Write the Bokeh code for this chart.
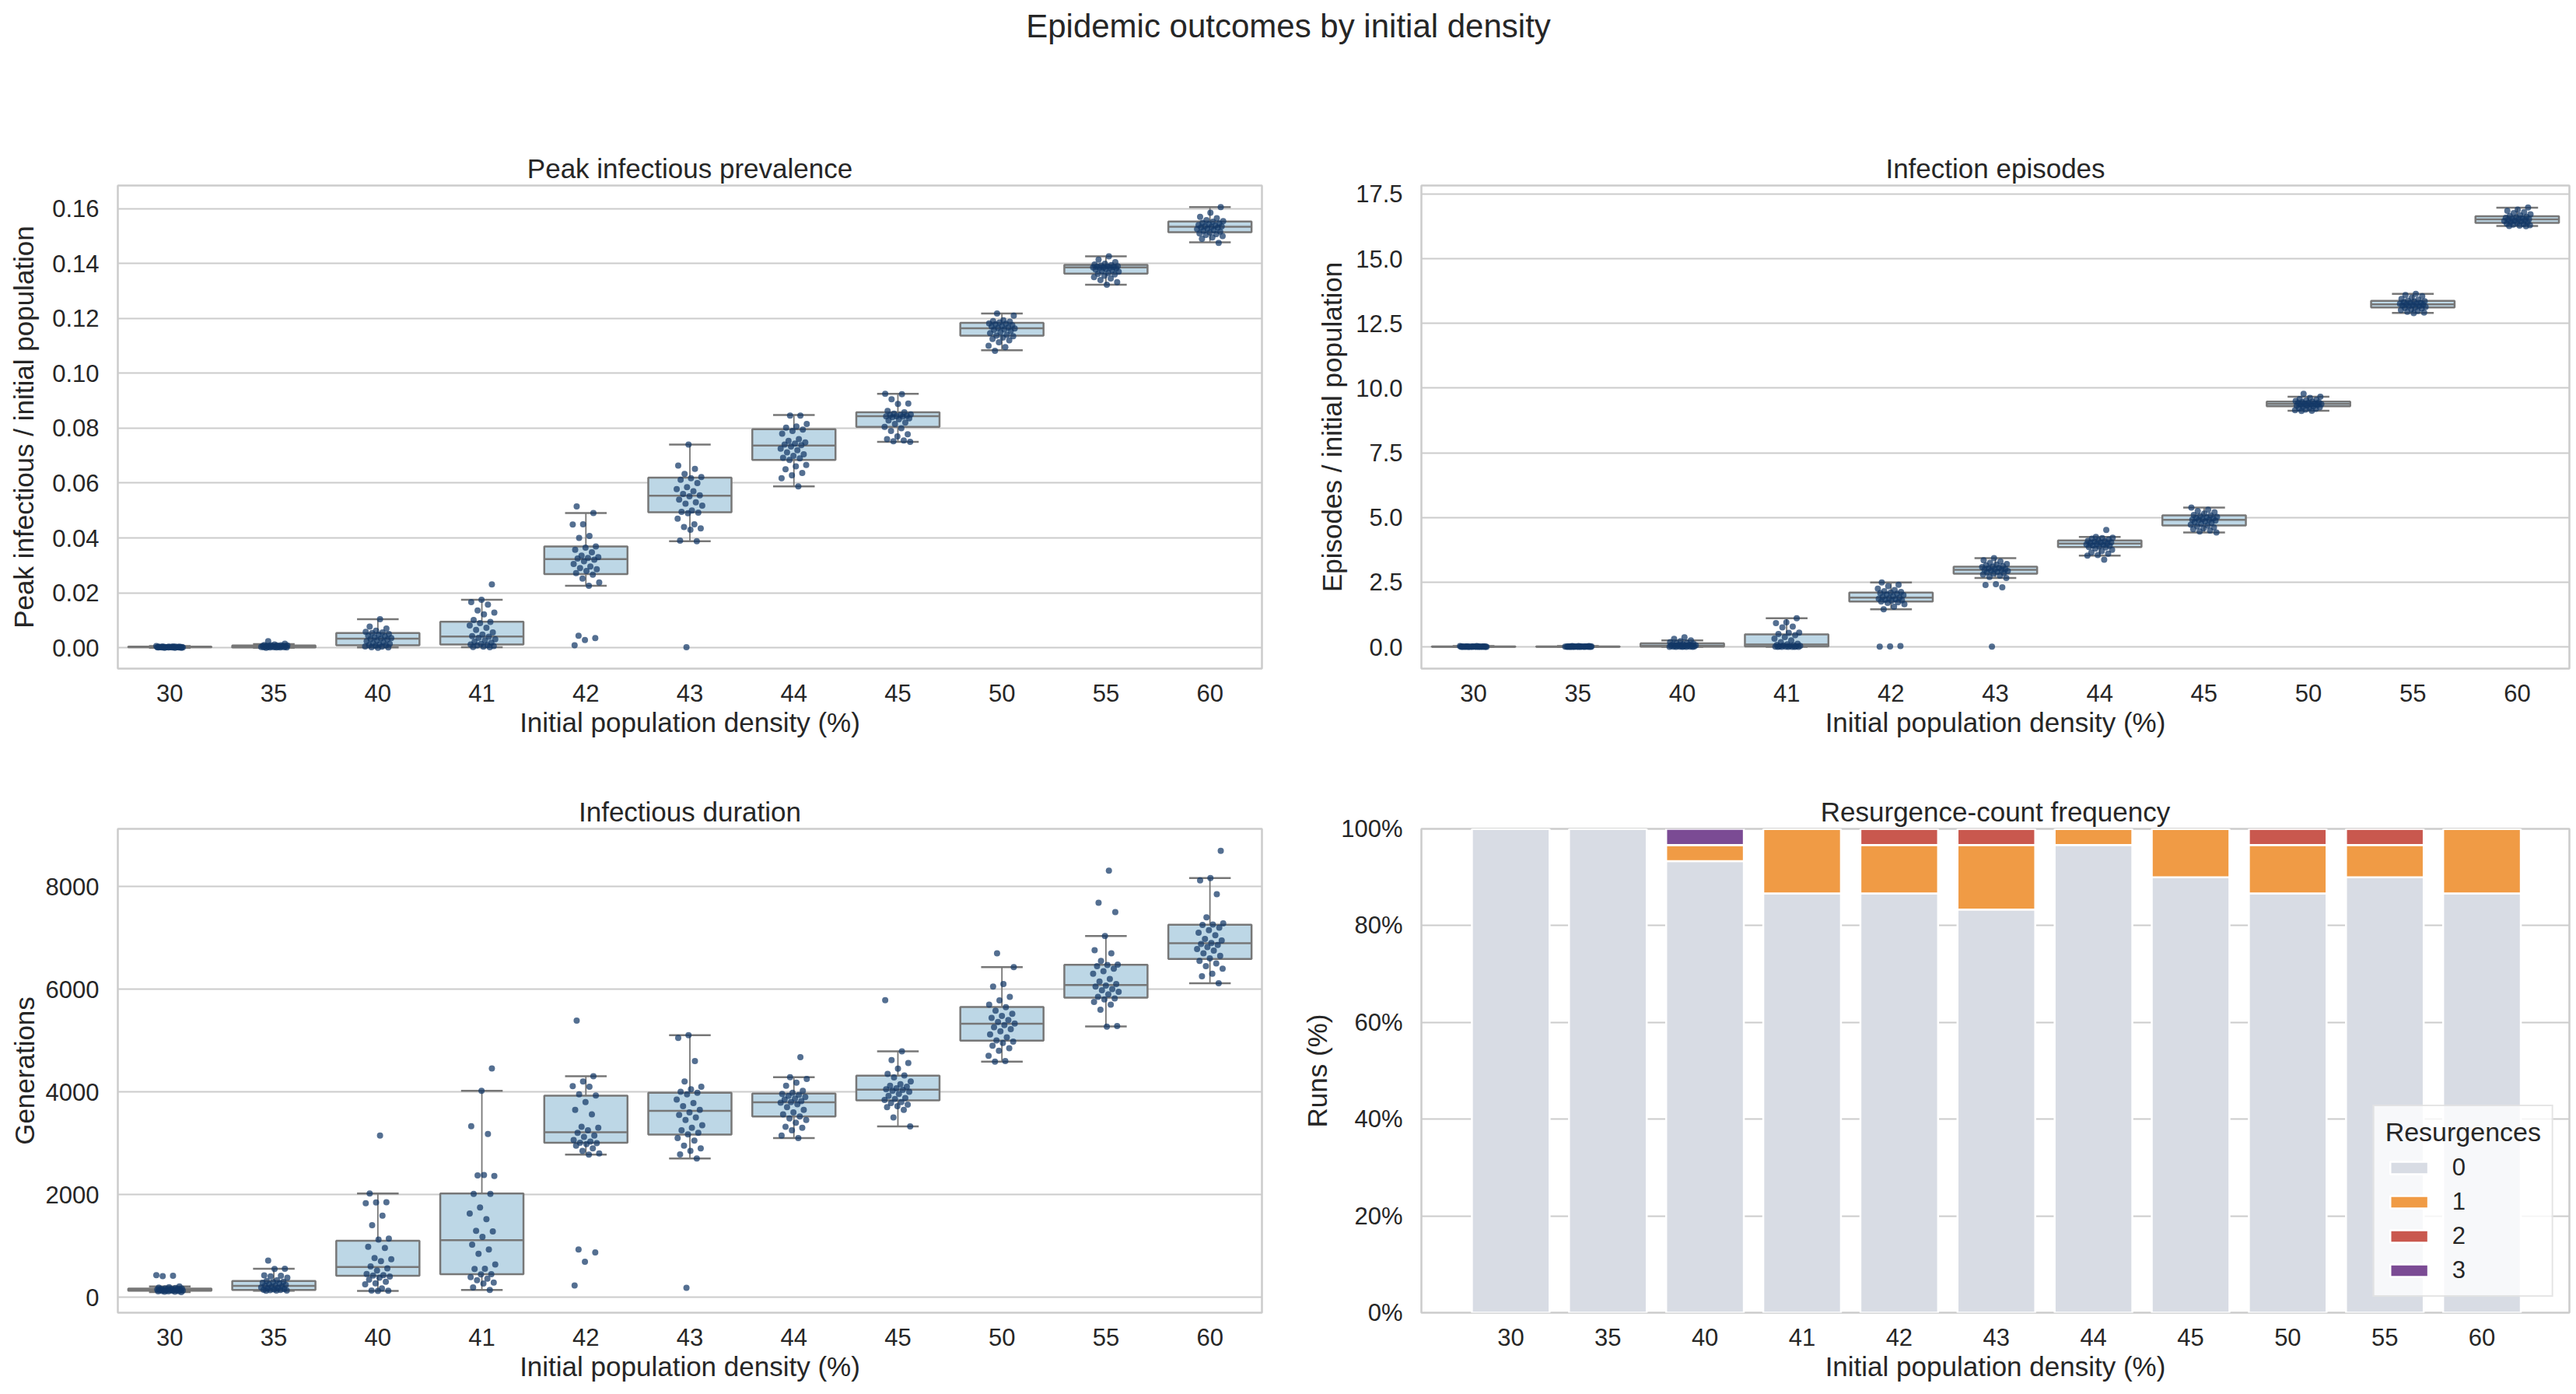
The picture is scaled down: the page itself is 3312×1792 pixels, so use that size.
import numpy as np
from bokeh.plotting import figure
from bokeh.models import ColumnDataSource, FixedTicker, Range1d, NumeralTickFormatter
from bokeh.layouts import column, row
from bokeh.embed import file_html
from bokeh.resources import INLINE
from bokeh.core.properties import value

# ---------------- data ----------------
densities = ["30", "35", "40", "41", "42", "43", "44", "45", "50", "55", "60"]

# Peak infectious / initial population (30 runs per density)
peak_runs = [
    [0.0006, 0.0005, 0.0005, 0.0004, 0.0004, 0.0004, 0.0004, 0.0003, 0.0003, 0.0003, 0.0003, 0.0003, 0.0003, 0.0002, 0.0002,
     0.0002, 0.0002, 0.0002, 0.0002, 0.0002, 0.0002, 0.0001, 0.0001, 0.0001, 0.0001, 0.0001, 0.0001, 0.0000, 0.0000, 0.0000],
    [0.0024, 0.0015, 0.0012, 0.0010, 0.0009, 0.0009, 0.0008, 0.0008, 0.0007, 0.0007, 0.0006, 0.0006, 0.0005, 0.0005, 0.0005,
     0.0005, 0.0004, 0.0004, 0.0004, 0.0003, 0.0003, 0.0003, 0.0002, 0.0002, 0.0002, 0.0001, 0.0001, 0.0001, 0.0001, 0.0000],
    [0.0104, 0.0077, 0.0070, 0.0062, 0.0058, 0.0056, 0.0054, 0.0050, 0.0047, 0.0044, 0.0041, 0.0038, 0.0035, 0.0034, 0.0032,
     0.0030, 0.0027, 0.0024, 0.0020, 0.0017, 0.0014, 0.0012, 0.0010, 0.0009, 0.0007, 0.0005, 0.0004, 0.0002, 0.0001, 0.0000],
    [0.0231, 0.0175, 0.0166, 0.0157, 0.0136, 0.0128, 0.0122, 0.0101, 0.0094, 0.0090, 0.0081, 0.0073, 0.0065, 0.0056, 0.0048,
     0.0042, 0.0040, 0.0036, 0.0031, 0.0027, 0.0022, 0.0018, 0.0014, 0.0012, 0.0010, 0.0008, 0.0006, 0.0004, 0.0003, 0.0002],
    [0.0515, 0.0491, 0.0450, 0.0449, 0.0407, 0.0400, 0.0369, 0.0365, 0.0357, 0.0348, 0.0336, 0.0330, 0.0327, 0.0325, 0.0321,
     0.0315, 0.0305, 0.0296, 0.0290, 0.0286, 0.0280, 0.0272, 0.0266, 0.0252, 0.0238, 0.0226, 0.0044, 0.0035, 0.0028, 0.0009],
    [0.0740, 0.0664, 0.0652, 0.0633, 0.0622, 0.0618, 0.0612, 0.0600, 0.0585, 0.0578, 0.0570, 0.0560, 0.0555, 0.0552, 0.0540,
     0.0530, 0.0525, 0.0518, 0.0500, 0.0495, 0.0492, 0.0490, 0.0470, 0.0450, 0.0440, 0.0435, 0.0430, 0.0390, 0.0388, 0.0002],
    [0.0846, 0.0846, 0.0815, 0.0806, 0.0802, 0.0795, 0.0790, 0.0780, 0.0760, 0.0754, 0.0748, 0.0744, 0.0740, 0.0738, 0.0733,
     0.0725, 0.0720, 0.0712, 0.0705, 0.0699, 0.0692, 0.0690, 0.0684, 0.0666, 0.0661, 0.0650, 0.0637, 0.0628, 0.0618, 0.0588],
    [0.0925, 0.0924, 0.0905, 0.0890, 0.0888, 0.0863, 0.0858, 0.0853, 0.0850, 0.0848, 0.0847, 0.0845, 0.0844, 0.0843, 0.0842,
     0.0840, 0.0836, 0.0832, 0.0828, 0.0820, 0.0815, 0.0805, 0.0800, 0.0790, 0.0778, 0.0770, 0.0760, 0.0755, 0.0752, 0.0750],
    [0.1218, 0.1210, 0.1193, 0.1190, 0.1188, 0.1185, 0.1182, 0.1180, 0.1178, 0.1175, 0.1172, 0.1170, 0.1167, 0.1165, 0.1163,
     0.1160, 0.1158, 0.1154, 0.1150, 0.1146, 0.1140, 0.1137, 0.1135, 0.1130, 0.1125, 0.1120, 0.1113, 0.1100, 0.1095, 0.1082],
    [0.1426, 0.1414, 0.1405, 0.1399, 0.1396, 0.1394, 0.1392, 0.1390, 0.1389, 0.1388, 0.1387, 0.1386, 0.1386, 0.1385, 0.1384,
     0.1382, 0.1380, 0.1378, 0.1376, 0.1373, 0.1370, 0.1365, 0.1362, 0.1360, 0.1355, 0.1350, 0.1345, 0.1340, 0.1332, 0.1323],
    [0.1605, 0.1585, 0.1570, 0.1565, 0.1558, 0.1554, 0.1552, 0.1548, 0.1546, 0.1543, 0.1540, 0.1538, 0.1536, 0.1535, 0.1533,
     0.1531, 0.1530, 0.1527, 0.1525, 0.1522, 0.1519, 0.1516, 0.1513, 0.1510, 0.1507, 0.1504, 0.1500, 0.1495, 0.1490, 0.1475],
]
peak_q1 = [0.0002, 0.0001, 0.0009, 0.0012, 0.0268, 0.0494, 0.0684, 0.0805, 0.1137, 0.1363, 0.1514]
peak_med = [0.0003, 0.0005, 0.0033, 0.0041, 0.0323, 0.0554, 0.0737, 0.0844, 0.1164, 0.1386, 0.1534]
peak_q3 = [0.0004, 0.0008, 0.0054, 0.0095, 0.0369, 0.0620, 0.0796, 0.0858, 0.1184, 0.1395, 0.1553]
peak_lo = [0.0000, 0.0000, 0.0001, 0.0002, 0.0226, 0.0388, 0.0588, 0.0750, 0.1084, 0.1323, 0.1477]
peak_hi = [0.0006, 0.0013, 0.0104, 0.0175, 0.0491, 0.0740, 0.0848, 0.0925, 0.1218, 0.1426, 0.1605]

# Infection episodes / initial population
episode_runs = [
    [0.03, 0.03, 0.02, 0.02, 0.02, 0.02, 0.02, 0.01, 0.01, 0.01, 0.01, 0.01, 0.01, 0.01, 0.01,
     0.01, 0.01, 0.01, 0.00, 0.00, 0.00, 0.00, 0.00, 0.00, 0.00, 0.00, 0.00, 0.00, 0.00, 0.00],
    [0.03, 0.03, 0.03, 0.02, 0.02, 0.02, 0.02, 0.02, 0.02, 0.02, 0.01, 0.01, 0.01, 0.01, 0.01,
     0.01, 0.01, 0.01, 0.01, 0.01, 0.01, 0.00, 0.00, 0.00, 0.00, 0.00, 0.00, 0.00, 0.00, 0.00],
    [0.37, 0.31, 0.25, 0.22, 0.18, 0.15, 0.14, 0.12, 0.10, 0.09, 0.08, 0.07, 0.06, 0.05, 0.05,
     0.05, 0.04, 0.04, 0.03, 0.03, 0.02, 0.02, 0.01, 0.01, 0.01, 0.00, 0.00, 0.00, 0.00, 0.00],
    [1.11, 0.95, 0.92, 0.78, 0.75, 0.55, 0.54, 0.50, 0.45, 0.38, 0.32, 0.25, 0.18, 0.12, 0.10,
     0.08, 0.06, 0.05, 0.04, 0.03, 0.02, 0.02, 0.01, 0.01, 0.00, 0.00, 0.00, 0.00, 0.00, 0.00],
    [2.49, 2.40, 2.35, 2.25, 2.20, 2.15, 2.12, 2.10, 2.08, 2.05, 2.02, 2.00, 1.96, 1.93, 1.90,
     1.88, 1.86, 1.84, 1.82, 1.80, 1.78, 1.75, 1.72, 1.70, 1.65, 1.55, 1.45, 0.03, 0.02, 0.01],
    [3.43, 3.35, 3.30, 3.25, 3.20, 3.18, 3.15, 3.12, 3.10, 3.08, 3.05, 3.03, 3.00, 2.99, 2.98,
     2.97, 2.95, 2.93, 2.90, 2.88, 2.85, 2.83, 2.80, 2.75, 2.70, 2.66, 2.42, 2.39, 2.30, 0.01],
    [4.52, 4.25, 4.22, 4.20, 4.18, 4.15, 4.12, 4.10, 4.08, 4.06, 4.04, 4.02, 4.00, 3.99, 3.98,
     3.96, 3.94, 3.92, 3.90, 3.88, 3.86, 3.84, 3.80, 3.75, 3.70, 3.65, 3.60, 3.55, 3.53, 3.37],
    [5.38, 5.30, 5.25, 5.20, 5.15, 5.10, 5.08, 5.05, 5.02, 5.00, 4.98, 4.96, 4.94, 4.92, 4.91,
     4.90, 4.88, 4.85, 4.82, 4.80, 4.76, 4.72, 4.69, 4.66, 4.62, 4.58, 4.55, 4.50, 4.46, 4.42],
    [9.78, 9.67, 9.62, 9.58, 9.55, 9.52, 9.50, 9.48, 9.46, 9.45, 9.43, 9.42, 9.40, 9.39, 9.38,
     9.37, 9.36, 9.35, 9.33, 9.32, 9.30, 9.28, 9.26, 9.24, 9.22, 9.20, 9.17, 9.15, 9.13, 9.12],
    [13.64, 13.60, 13.55, 13.50, 13.45, 13.42, 13.38, 13.36, 13.34, 13.32, 13.30, 13.28, 13.26, 13.25, 13.24,
     13.23, 13.22, 13.20, 13.18, 13.16, 13.14, 13.12, 13.10, 13.08, 13.05, 13.02, 12.98, 12.95, 12.92, 12.90],
    [16.98, 16.90, 16.85, 16.80, 16.76, 16.72, 16.68, 16.65, 16.62, 16.60, 16.58, 16.56, 16.54, 16.53, 16.52,
     16.51, 16.50, 16.48, 16.46, 16.44, 16.42, 16.40, 16.38, 16.36, 16.34, 16.32, 16.30, 16.28, 16.27, 16.26],
]
episode_q1 = [0.00, 0.00, 0.01, 0.02, 1.75, 2.83, 3.86, 4.69, 9.30, 13.12, 16.39]
episode_med = [0.01, 0.01, 0.05, 0.09, 1.90, 2.98, 3.99, 4.91, 9.39, 13.24, 16.52]
episode_q3 = [0.02, 0.02, 0.14, 0.48, 2.10, 3.10, 4.11, 5.08, 9.48, 13.37, 16.64]
episode_lo = [0.00, 0.00, 0.00, 0.00, 1.45, 2.66, 3.53, 4.42, 9.13, 12.91, 16.27]
episode_hi = [0.03, 0.03, 0.25, 1.11, 2.49, 3.43, 4.25, 5.38, 9.67, 13.64, 16.97]

# Infectious duration (generations)
duration_runs = [
    [429, 416, 410, 208, 195, 185, 178, 170, 165, 160, 158, 155, 150, 148, 145,
     142, 140, 138, 135, 132, 130, 128, 125, 122, 118, 115, 112, 108, 105, 100],
    [713, 555, 549, 423, 416, 404, 380, 330, 315, 300, 290, 280, 265, 250, 240,
     225, 218, 210, 200, 190, 180, 170, 160, 150, 145, 140, 135, 130, 128, 126],
    [3148, 2019, 1850, 1845, 1830, 1587, 1400, 1140, 1120, 980, 960, 760, 740, 700, 600,
     560, 520, 450, 430, 420, 400, 380, 340, 300, 270, 250, 170, 130, 125, 120],
    [4454, 4019, 3331, 3180, 2372, 2360, 2378, 2013, 2013, 1748, 1628, 1520, 1293, 1281, 1173,
     1022, 927, 845, 637, 555, 549, 448, 442, 391, 360, 328, 284, 265, 189, 139],
    [5388, 4303, 4200, 4110, 4100, 3950, 3930, 3800, 3650, 3560, 3320, 3300, 3250, 3200, 3150,
     3120, 3060, 3030, 3010, 3000, 2980, 2950, 2900, 2850, 2800, 2776, 927, 871, 688, 227],
    [5104, 5050, 4600, 4200, 4100, 4050, 4000, 3980, 3950, 3850, 3780, 3720, 3650, 3600, 3550,
     3500, 3450, 3350, 3300, 3250, 3200, 3170, 3100, 3050, 2950, 2900, 2850, 2780, 2700, 183],
    [4675, 4284, 4250, 4180, 4120, 4020, 3980, 3960, 3940, 3920, 3900, 3870, 3850, 3820, 3800,
     3790, 3760, 3700, 3650, 3600, 3560, 3520, 3480, 3450, 3400, 3320, 3300, 3250, 3150, 3098],
    [5785, 4789, 4620, 4560, 4450, 4350, 4320, 4280, 4200, 4150, 4120, 4100, 4070, 4050, 4040,
     4020, 4000, 3960, 3920, 3880, 3860, 3840, 3800, 3780, 3750, 3720, 3700, 3650, 3500, 3325],
    [6700, 6429, 6100, 6050, 5850, 5780, 5700, 5650, 5580, 5520, 5480, 5440, 5400, 5360, 5330,
     5300, 5260, 5220, 5180, 5120, 5060, 5000, 4980, 4950, 4900, 4850, 4800, 4700, 4600, 4587],
    [8309, 7684, 7501, 7034, 6760, 6700, 6550, 6480, 6470, 6450, 6400, 6350, 6300, 6200, 6150,
     6100, 6070, 6050, 6000, 5980, 5950, 5900, 5850, 5820, 5800, 5750, 5700, 5600, 5280, 5270],
    [8694, 8164, 8120, 7850, 7400, 7280, 7260, 7250, 7200, 7150, 7100, 7050, 6980, 6950, 6900,
     6880, 6860, 6820, 6780, 6750, 6700, 6650, 6600, 6550, 6500, 6450, 6400, 6300, 6250, 6113],
]
duration_q1 = [125, 139, 416, 448, 3009, 3167, 3520, 3836, 4997, 5836, 6587]
duration_med = [140, 221, 587, 1110, 3211, 3628, 3798, 4044, 5325, 6082, 6896]
duration_q3 = [165, 315, 1098, 2019, 3924, 3981, 3968, 4315, 5653, 6473, 7255]
duration_lo = [100, 126, 120, 139, 2776, 2700, 3098, 3325, 4587, 5274, 6113]
duration_hi = [210, 555, 2019, 4019, 4303, 5104, 4284, 4789, 6429, 7034, 8164]

# Resurgence counts (runs out of 30) per density
resurg_labels = ["0", "1", "2", "3"]
resurg_0 = [30, 30, 28, 26, 26, 25, 29, 27, 26, 27, 26]
resurg_1 = [0, 0, 1, 4, 3, 4, 1, 3, 3, 2, 4]
resurg_2 = [0, 0, 0, 0, 1, 1, 0, 0, 1, 1, 0]
resurg_3 = [0, 0, 1, 0, 0, 0, 0, 0, 0, 0, 0]

# ---------------- style ----------------
FONT = "Liberation Sans"
TXT = "#262626"
GRID = "#cccccc"
BOX_FILL = "#bdd7e6"
BOX_LINE = "#777777"
PT_COLOR = "#123766"
BAR_COLORS = ["#d8dce4", "#f09b45", "#c9584e", "#7b4b94"]
XLABEL = "Initial population density (%)"


def style(p, ylabel, ylab_standoff):
    p.title.text_font = FONT
    p.title.text_font_size = "35px"
    p.title.text_font_style = "normal"
    p.title.text_color = TXT
    p.title.align = "center"
    p.title.standoff = 6
    p.outline_line_color = GRID
    p.outline_line_width = 2.5
    p.xgrid.grid_line_color = None
    p.ygrid.grid_line_color = GRID
    p.ygrid.grid_line_width = 2
    for ax in (p.xaxis[0], p.yaxis[0]):
        ax.axis_line_color = None
        ax.major_tick_line_color = None
        ax.minor_tick_line_color = None
        ax.major_tick_out = 0
        ax.major_tick_in = 0
        ax.minor_tick_out = 0
        ax.minor_tick_in = 0
        ax.major_label_text_font = FONT
        ax.major_label_text_font_size = "31px"
        ax.major_label_text_color = TXT
        ax.axis_label_text_font = FONT
        ax.axis_label_text_font_size = "35px"
        ax.axis_label_text_font_style = "normal"
        ax.axis_label_text_color = TXT
    p.xaxis[0].axis_label = XLABEL
    p.xaxis[0].major_label_standoff = 20
    p.xaxis[0].axis_label_standoff = 4
    p.yaxis[0].axis_label = ylabel
    p.yaxis[0].major_label_standoff = 24
    p.yaxis[0].axis_label_standoff = ylab_standoff
    p.xaxis[0].ticker = FixedTicker(ticks=list(range(len(densities))))
    p.xaxis[0].major_label_overrides = {i: d for i, d in enumerate(densities)}


def box_panel(title, ylabel, runs, q1, med, q3, lo, hi, yr, yticks, yfmt, width, mbl, mbr, height, mbt, mbb, ylab_standoff):
    p = figure(width=width, height=height, output_backend="svg", toolbar_location=None,
               x_range=Range1d(-0.5, len(densities) - 0.5), y_range=Range1d(*yr),
               min_border_left=mbl, min_border_right=mbr, min_border_top=mbt, min_border_bottom=mbb,
               title=title)
    style(p, ylabel, ylab_standoff)
    p.yaxis[0].ticker = FixedTicker(ticks=yticks)
    p.yaxis[0].formatter = NumeralTickFormatter(format=yfmt)

    idx = np.arange(len(densities), dtype=float)
    bsrc = ColumnDataSource(dict(x=idx, q1=q1, med=med, q3=q3, lo=lo, hi=hi,
                                 xl=idx - 0.4, xr=idx + 0.4, cl=idx - 0.2, cr=idx + 0.2))
    p.segment(x0="x", x1="x", y0="q3", y1="hi", source=bsrc, line_color=BOX_LINE, line_width=1.8)
    p.segment(x0="x", x1="x", y0="q1", y1="lo", source=bsrc, line_color=BOX_LINE, line_width=1.8)
    p.segment(x0="cl", x1="cr", y0="hi", y1="hi", source=bsrc, line_color=BOX_LINE, line_width=2.5)
    p.segment(x0="cl", x1="cr", y0="lo", y1="lo", source=bsrc, line_color=BOX_LINE, line_width=2.5)
    p.vbar(x="x", width=0.8, bottom="q1", top="q3", source=bsrc,
           fill_color=BOX_FILL, line_color=BOX_LINE, line_width=2.5)
    p.segment(x0="xl", x1="xr", y0="med", y1="med", source=bsrc, line_color=BOX_LINE, line_width=2.5)

    # strip points with a deterministic spread around each category
    xs, ys = [], []
    for i, vals in enumerate(runs):
        for j, v in enumerate(vals):
            off = ((j * 0.6180339887 + i * 0.29) % 1.0 - 0.5) * 0.26
            xs.append(i + off)
            ys.append(v)
    psrc = ColumnDataSource(dict(x=xs, y=ys))
    p.scatter(x="x", y="y", source=psrc, size=8, fill_color=PT_COLOR, fill_alpha=0.72, line_color=None)
    return p


# ---------------- layout geometry ----------------
W_L, W_R = 1660, 1652
H_TOP, H_ROW1, H_ROW2 = 80, 890, 822

p1 = box_panel("Peak infectious prevalence", "Peak infectious / initial population",
               peak_runs, peak_q1, peak_med, peak_q3, peak_lo, peak_hi,
               (-0.0076, 0.1684), [0, 0.02, 0.04, 0.06, 0.08, 0.10, 0.12, 0.14, 0.16], "0.00",
               W_L, 151, 38, H_ROW1, 158, 111, 14)
p2 = box_panel("Infection episodes", "Episodes / initial population",
               episode_runs, episode_q1, episode_med, episode_q3, episode_lo, episode_hi,
               (-0.84, 17.83), [0, 2.5, 5, 7.5, 10, 12.5, 15, 17.5], "0.0",
               W_R, 167, 9, H_ROW1, 158, 111, 8)
p3 = box_panel("Infectious duration", "Generations",
               duration_runs, duration_q1, duration_med, duration_q3, duration_lo, duration_hi,
               (-303, 9123), [0, 2000, 4000, 6000, 8000], "0",
               W_L, 151, 38, H_ROW2, 95, 105, 5)

# Resurgence-count frequency (stacked shares)
n_runs = np.array(resurg_0) + np.array(resurg_1) + np.array(resurg_2) + np.array(resurg_3)
rsrc = ColumnDataSource(dict(
    x=np.arange(len(densities), dtype=float),
    c0=np.array(resurg_0) / n_runs, c1=np.array(resurg_1) / n_runs,
    c2=np.array(resurg_2) / n_runs, c3=np.array(resurg_3) / n_runs,
))
p4 = figure(width=W_R, height=H_ROW2, output_backend="svg", toolbar_location=None,
            x_range=Range1d(-0.92, 10.9), y_range=Range1d(0, 1),
            min_border_left=167, min_border_right=9, min_border_top=95, min_border_bottom=105,
            title="Resurgence-count frequency")
style(p4, "Runs (%)", 8)
p4.yaxis[0].ticker = FixedTicker(ticks=[0, 0.2, 0.4, 0.6, 0.8, 1.0])
p4.yaxis[0].formatter = NumeralTickFormatter(format="0%")
p4.vbar_stack(["c0", "c1", "c2", "c3"], x="x", width=0.8, source=rsrc, color=BAR_COLORS,
              line_color="white", line_width=2.5, legend_label=resurg_labels)
lg = p4.legend[0]
lg.title = "Resurgences"
lg.title_text_font = FONT
lg.title_text_font_size = "34px"
lg.title_text_font_style = "normal"
lg.title_text_color = TXT
lg.title_standoff = 8
lg.label_text_font = FONT
lg.label_text_font_size = "31px"
lg.label_text_color = TXT
lg.glyph_width = 61
lg.glyph_height = 20
lg.label_standoff = 25
lg.spacing = 8
lg.padding = 14
lg.margin = 20
lg.location = "bottom_right"
lg.border_line_color = GRID
lg.border_line_width = 2.5
lg.background_fill_color = "white"
lg.background_fill_alpha = 0.8

# figure-level title
sup = figure(width=W_L + W_R, height=H_TOP, output_backend="svg", toolbar_location=None,
             x_range=Range1d(0, 1), y_range=Range1d(0, 1), min_border=0,
             x_axis_location=None, y_axis_location=None)
sup.outline_line_color = None
sup.grid.grid_line_color = None
sup.text(x=[0.5], y=[1 - 33 / H_TOP], text=["Epidemic outcomes by initial density"],
         text_font=value(FONT), text_font_size="42px", text_color=TXT,
         text_align="center", text_baseline="middle")

layout = column(sup, row(p1, p2), row(p3, p4))
open("out.html", "w").write(file_html(layout, INLINE))
